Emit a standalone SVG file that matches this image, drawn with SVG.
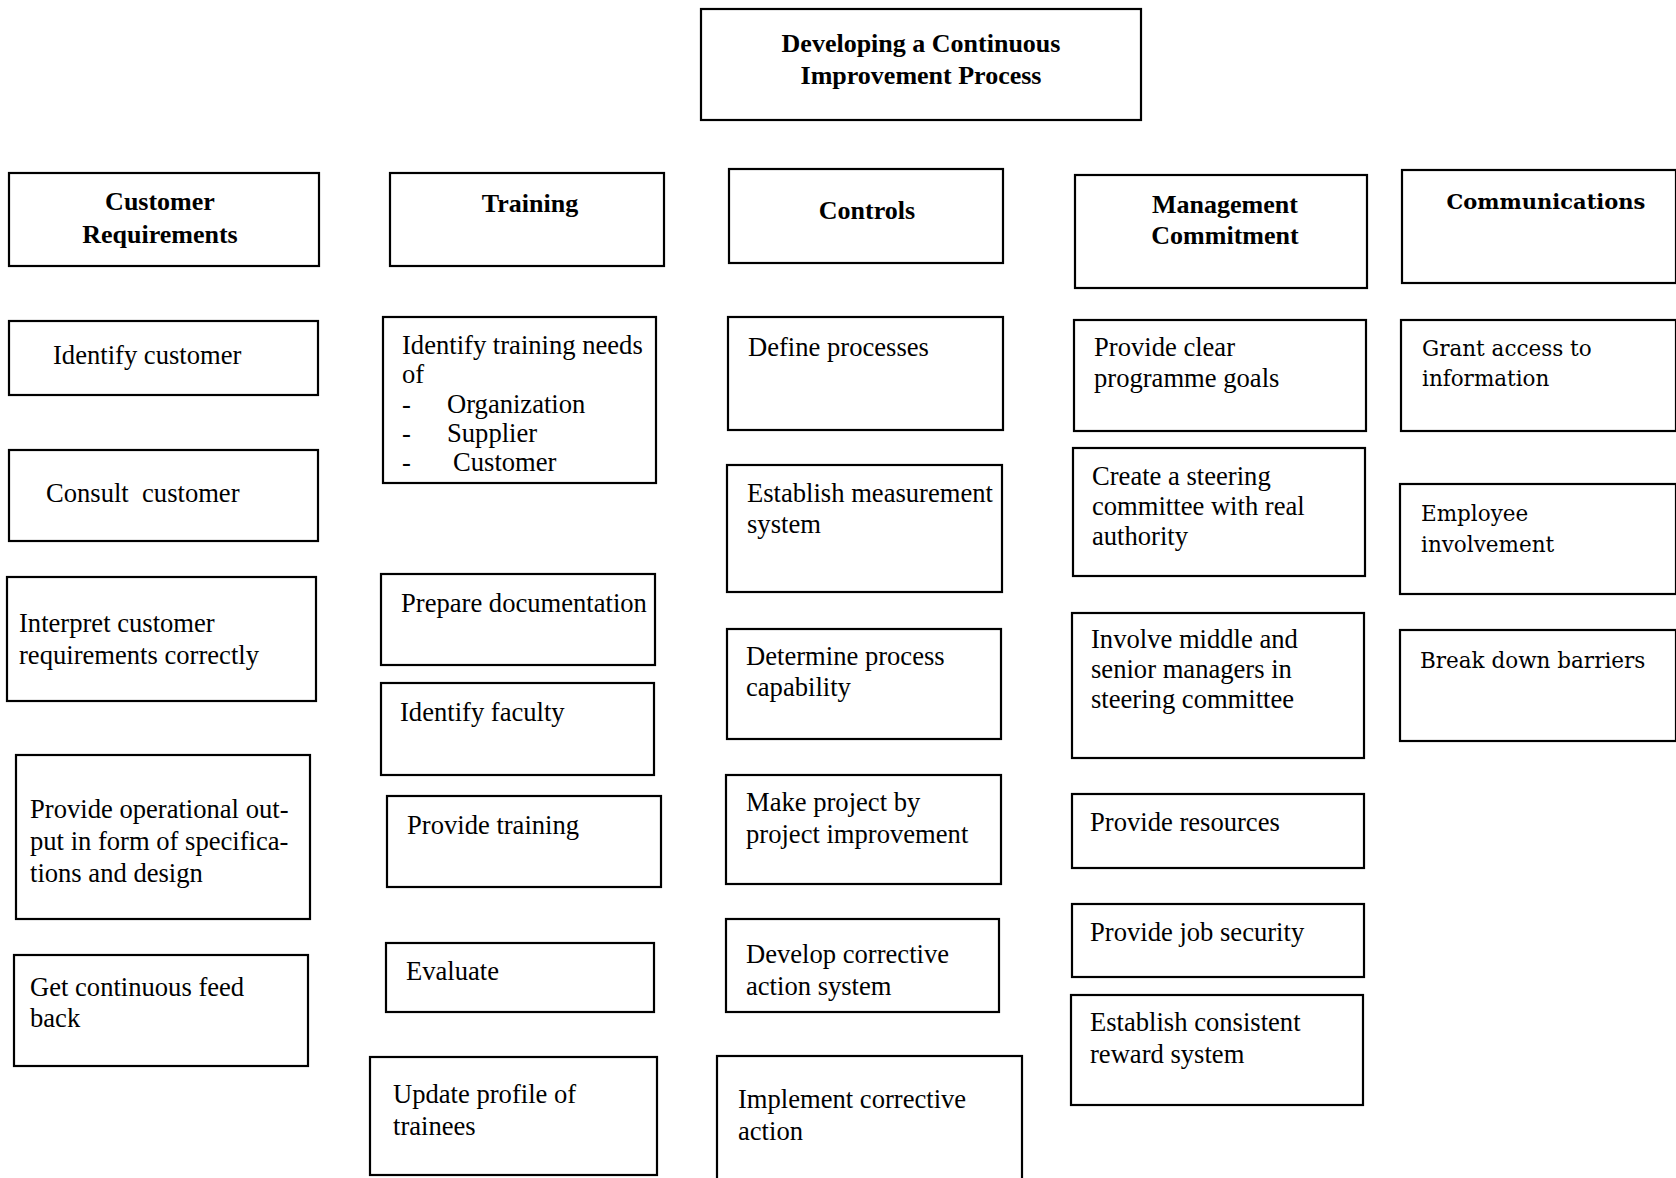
<svg xmlns="http://www.w3.org/2000/svg" width="1676" height="1178" viewBox="0 0 1676 1178">
<style>
rect{fill:#fff;stroke:#000;stroke-width:2.2}
text{font-family:"Liberation Serif","Times New Roman",serif;font-size:26.6px;fill:#000}
.h{font-weight:bold;text-anchor:middle;font-size:26px}
.c{font-family:"DejaVu Serif","Liberation Serif",serif;font-size:21.5px}
.ch{font-family:"DejaVu Serif","Liberation Serif",serif;font-size:21px;font-weight:bold;text-anchor:middle}
</style>
<rect x="0" y="0" width="1676" height="1178" style="stroke:none"/>
<g id="connectors"></g>
<g id="title"><rect x="701" y="9" width="440" height="111"/><text class="h" x="921" y="52">Developing a Continuous</text><text class="h" x="921" y="84">Improvement Process</text></g>

<g id="customer-requirements"><rect x="9" y="173" width="310" height="93"/><text class="h" x="160" y="210">Customer</text><text class="h" x="160" y="243">Requirements</text></g>
<g id="identify-customer"><rect x="9" y="321" width="309" height="74"/><text x="53" y="364">Identify customer</text></g>
<g id="consult-customer"><rect x="9" y="450" width="309" height="91"/><text x="46" y="502" xml:space="preserve">Consult  customer</text></g>
<g id="interpret"><rect x="7" y="577" width="309" height="124"/><text x="19" y="632">Interpret customer</text><text x="19" y="664">requirements correctly</text></g>
<g id="provide-output"><rect x="16" y="755" width="294" height="164"/><text x="30" y="818">Provide operational out-</text><text x="30" y="850">put in form of specifica-</text><text x="30" y="882">tions and design</text></g>
<g id="feedback"><rect x="14" y="955" width="294" height="111"/><text x="30" y="996">Get continuous feed</text><text x="30" y="1027">back</text></g>

<g id="training"><rect x="390" y="173" width="274" height="93"/><text class="h" x="530" y="212">Training</text></g>
<g id="training-needs"><rect x="383" y="317" width="273" height="166"/><text x="402" y="354">Identify training needs</text><text x="402" y="383">of</text><text x="402" y="413">-</text><text x="447" y="413">Organization</text><text x="402" y="442">-</text><text x="447" y="442">Supplier</text><text x="402" y="471">-</text><text x="453" y="471">Customer</text></g>
<g id="prepare-documentation"><rect x="381" y="574" width="274" height="91"/><text x="401" y="612">Prepare documentation</text></g>
<g id="identify-faculty"><rect x="381" y="683" width="273" height="92"/><text x="400" y="721">Identify faculty</text></g>
<g id="provide-training"><rect x="387" y="796" width="274" height="91"/><text x="407" y="834">Provide training</text></g>
<g id="evaluate"><rect x="386" y="943" width="268" height="69"/><text x="406" y="980">Evaluate</text></g>
<g id="update-profile"><rect x="370" y="1057" width="287" height="118"/><text x="393" y="1103">Update profile of</text><text x="393" y="1135">trainees</text></g>

<g id="controls"><rect x="729" y="169" width="274" height="94"/><text class="h" x="867" y="219">Controls</text></g>
<g id="define-processes"><rect x="728" y="317" width="275" height="113"/><text x="748" y="356">Define processes</text></g>
<g id="measurement"><rect x="727" y="465" width="275" height="127"/><text x="747" y="502">Establish measurement</text><text x="747" y="533">system</text></g>
<g id="capability"><rect x="727" y="629" width="274" height="110"/><text x="746" y="665">Determine process</text><text x="746" y="696">capability</text></g>
<g id="project-improvement"><rect x="726" y="775" width="275" height="109"/><text x="746" y="811">Make project by</text><text x="746" y="843">project improvement</text></g>
<g id="corrective-system"><rect x="726" y="919" width="273" height="93"/><text x="746" y="963">Develop corrective</text><text x="746" y="995">action system</text></g>
<g id="implement-corrective"><rect x="717" y="1056" width="305" height="130"/><text x="738" y="1108">Implement corrective</text><text x="738" y="1140">action</text></g>

<g id="management-commitment"><rect x="1075" y="175" width="292" height="113"/><text class="h" x="1225" y="213">Management</text><text class="h" x="1225" y="244">Commitment</text></g>
<g id="programme-goals"><rect x="1074" y="320" width="292" height="111"/><text x="1094" y="356">Provide clear</text><text x="1094" y="387">programme goals</text></g>
<g id="steering-committee"><rect x="1073" y="448" width="292" height="128"/><text x="1092" y="485">Create a steering</text><text x="1092" y="515">committee with real</text><text x="1092" y="545">authority</text></g>
<g id="involve-managers"><rect x="1072" y="613" width="292" height="145"/><text x="1091" y="648">Involve middle and</text><text x="1091" y="678">senior managers in</text><text x="1091" y="708">steering committee</text></g>
<g id="provide-resources"><rect x="1072" y="794" width="292" height="74"/><text x="1090" y="831">Provide resources</text></g>
<g id="job-security"><rect x="1072" y="904" width="292" height="73"/><text x="1090" y="941">Provide job security</text></g>
<g id="reward-system"><rect x="1071" y="995" width="292" height="110"/><text x="1090" y="1031">Establish consistent</text><text x="1090" y="1063">reward system</text></g>

<g id="communications"><rect x="1402" y="170" width="274" height="113"/><text class="ch" x="1546" y="209">Communications</text></g>
<g id="grant-access"><rect x="1401" y="320" width="275" height="111"/><text class="c" x="1422" y="356">Grant access to</text><text class="c" x="1422" y="386">information</text></g>
<g id="employee-involvement"><rect x="1400" y="484" width="276" height="110"/><text class="c" x="1421" y="521">Employee</text><text class="c" x="1421" y="552">involvement</text></g>
<g id="break-barriers"><rect x="1400" y="630" width="276" height="111"/><text class="c" x="1420" y="668">Break down barriers</text></g>
</svg>
